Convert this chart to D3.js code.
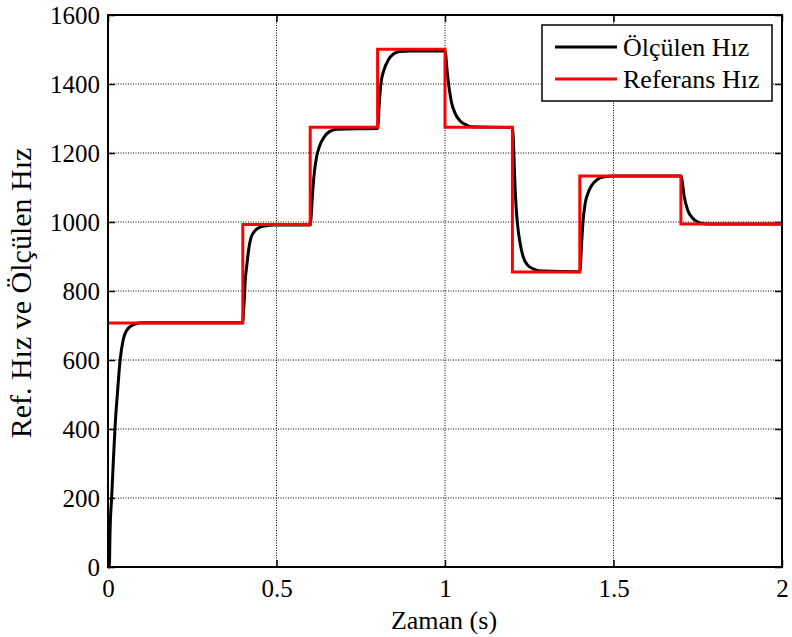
<!DOCTYPE html>
<html>
<head>
<meta charset="utf-8">
<script src="https://cdn.jsdelivr.net/npm/d3@7"></script>
<style>
  html, body { margin: 0; padding: 0; background: #fff; }
  svg { display: block; }
  svg text { font-family: "Liberation Serif", "Times New Roman", serif; }
</style>
</head>
<body>
<svg id="chart" width="792" height="637"></svg>
<script>
// Reference speed: step start times and levels
const refTimes = [0, 0.4, 0.6, 0.8, 1.0, 1.2, 1.4, 1.7, 2.0];
const refLevels = [707, 993, 1275, 1501, 1275, 855, 1133, 994];

// Measured speed samples [time (s), speed]
const measured = [
  [0, 0], [0.004, 0], [0.006, 100], [0.011, 204], [0.016, 310], [0.021, 407],
  [0.028, 504], [0.036, 600], [0.045, 658], [0.06, 692], [0.08, 704], [0.1, 708],
  [0.2, 708], [0.4, 708],
  [0.402, 740], [0.404, 769], [0.407, 827], [0.412, 875], [0.418, 924], [0.424, 953],
  [0.434, 972], [0.449, 984], [0.469, 989], [0.49, 991], [0.6, 991],
  [0.602, 1006], [0.607, 1083], [0.612, 1141], [0.619, 1189], [0.627, 1218],
  [0.642, 1247], [0.657, 1262], [0.681, 1269], [0.8, 1271],
  [0.805, 1344], [0.81, 1402], [0.819, 1441], [0.832, 1470], [0.847, 1487],
  [0.866, 1494], [0.896, 1496], [1.0, 1496],
  [1.007, 1431], [1.013, 1383], [1.02, 1344], [1.03, 1315], [1.045, 1293],
  [1.064, 1281], [1.079, 1276], [1.2, 1274],
  [1.204, 1209], [1.207, 1122], [1.211, 1044], [1.216, 986], [1.223, 938],
  [1.232, 899], [1.245, 875], [1.265, 863], [1.29, 858], [1.4, 856],
  [1.406, 948], [1.41, 1006], [1.416, 1054], [1.424, 1083], [1.436, 1107],
  [1.453, 1124], [1.473, 1131], [1.498, 1133], [1.7, 1133],
  [1.703, 1122], [1.71, 1073], [1.72, 1035], [1.735, 1011], [1.75, 1000],
  [1.77, 995], [1.79, 994], [2.0, 994]
];

const xTicks = [0, 0.5, 1, 1.5, 2];
const yTicks = [0, 200, 400, 600, 800, 1000, 1200, 1400, 1600];
const xLabel = "Zaman (s)";
const yLabel = "Ref. Hız ve Ölçülen Hız";
const legendLabels = ["Ölçülen Hız", "Referans Hız"];
const colors = ["#000000", "#ff0000"];

const serif = "'Liberation Serif', 'Times New Roman', serif";
const svg = d3.select("#chart");
const plot = { left: 108, top: 15, right: 782, bottom: 567 };

const x = d3.scaleLinear().domain([0, 2]).range([plot.left, plot.right]);
const y = d3.scaleLinear().domain([0, 1600]).range([plot.bottom, plot.top]);

// Dotted grid
const grid = svg.append("g");
grid.selectAll("line.vx").data(xTicks.slice(1, -1)).enter().append("line")
  .attr("x1", d => x(d)).attr("x2", d => x(d))
  .attr("y1", plot.top).attr("y2", plot.bottom)
  .attr("stroke", "#000").attr("stroke-width", 1).attr("stroke-dasharray", "1,1.5");
grid.selectAll("line.hy").data(yTicks.slice(1, -1)).enter().append("line")
  .attr("x1", plot.left).attr("x2", plot.right)
  .attr("y1", d => y(d)).attr("y2", d => y(d))
  .attr("stroke", "#000").attr("stroke-width", 1).attr("stroke-dasharray", "1,1.5");

// Axes with inward ticks on all four sides
const tickLen = 7;
const fontSize = 25;
function styleAxis(g) {
  g.attr("font-family", serif).attr("font-size", fontSize);
  g.select(".domain").remove();
  g.selectAll(".tick line").attr("stroke", "#000").attr("stroke-width", 1.5);
  g.selectAll(".tick text").attr("fill", "#000");
}
svg.append("g").attr("transform", `translate(0,${plot.bottom})`)
  .call(d3.axisBottom(x).tickValues(xTicks).tickSizeInner(-tickLen).tickSizeOuter(0)
    .tickPadding(12).tickFormat(d3.format("~g")))
  .call(styleAxis);
svg.append("g").attr("transform", `translate(0,${plot.top})`)
  .call(d3.axisTop(x).tickValues(xTicks).tickSizeInner(-tickLen).tickSizeOuter(0).tickFormat(""))
  .call(styleAxis);
svg.append("g").attr("transform", `translate(${plot.left},0)`)
  .call(d3.axisLeft(y).tickValues(yTicks).tickSizeInner(-tickLen).tickSizeOuter(0)
    .tickPadding(8).tickFormat(d3.format("d")))
  .call(styleAxis);
svg.append("g").attr("transform", `translate(${plot.right},0)`)
  .call(d3.axisRight(y).tickValues(yTicks).tickSizeInner(-tickLen).tickSizeOuter(0).tickFormat(""))
  .call(styleAxis);

// Measured speed
const line = d3.line().x(d => x(d[0])).y(d => y(d[1])).curve(d3.curveMonotoneX);
svg.append("path").datum(measured)
  .attr("d", line).attr("fill", "none")
  .attr("stroke", colors[0]).attr("stroke-width", 3).attr("stroke-linejoin", "round");

// Reference speed (step)
const refPoints = refTimes.map((t, i) => [t, refLevels[Math.min(i, refLevels.length - 1)]]);
const stepLine = d3.line().x(d => x(d[0])).y(d => y(d[1])).curve(d3.curveStepAfter);
svg.append("path").datum(refPoints)
  .attr("d", stepLine).attr("fill", "none")
  .attr("stroke", colors[1]).attr("stroke-width", 3).attr("stroke-linejoin", "miter");

// Plot frame
svg.append("rect")
  .attr("x", plot.left).attr("y", plot.top)
  .attr("width", plot.right - plot.left).attr("height", plot.bottom - plot.top)
  .attr("fill", "none").attr("stroke", "#000").attr("stroke-width", 2);

// Axis labels
svg.append("text")
  .attr("x", (plot.left + plot.right) / 2 - 1).attr("y", 629)
  .attr("text-anchor", "middle").attr("font-size", "26px")
  .text(xLabel);
svg.append("text")
  .attr("transform", `translate(31,293) rotate(-90)`)
  .attr("text-anchor", "middle").attr("font-size", "30px")
  .text(yLabel);

// Legend
const legend = svg.append("g");
legend.append("rect")
  .attr("x", 542).attr("y", 25).attr("width", 230).attr("height", 76)
  .attr("fill", "#fff").attr("stroke", "#000").attr("stroke-width", 1.5);
legendLabels.forEach((label, i) => {
  const cy = 47 + i * 32;
  legend.append("line")
    .attr("x1", 555).attr("x2", 617).attr("y1", cy).attr("y2", cy)
    .attr("stroke", colors[i]).attr("stroke-width", 3);
  legend.append("text")
    .attr("x", 623).attr("y", cy).attr("dy", "0.35em")
    .attr("font-size", "26px").text(label);
});
</script>
</body>
</html>
